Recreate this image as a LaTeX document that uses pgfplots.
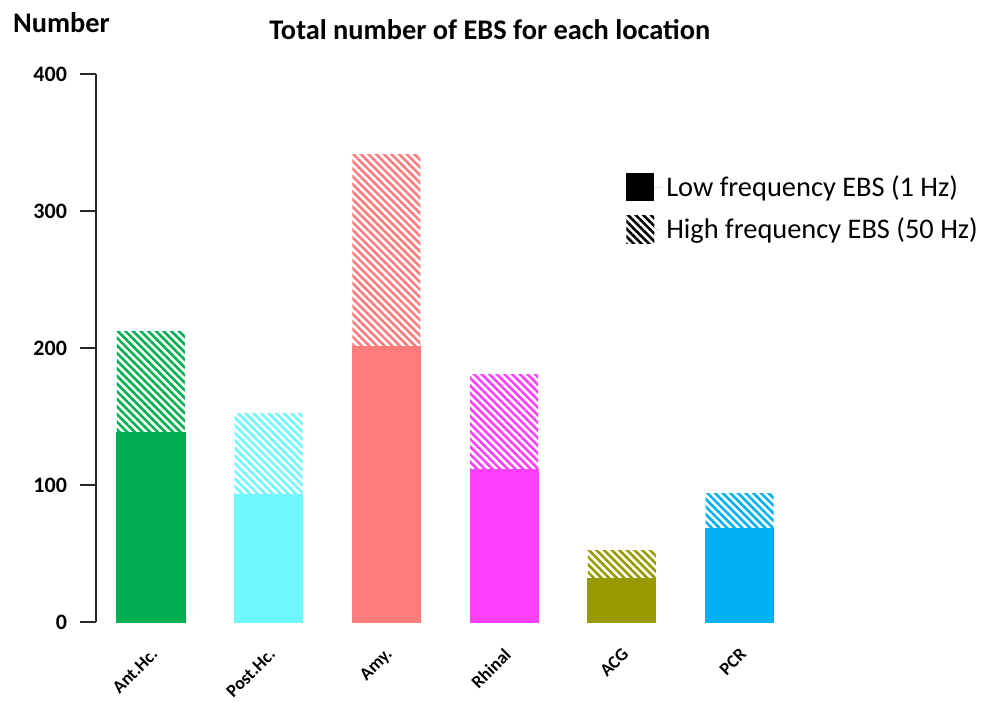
\documentclass[border=0pt]{standalone}
\usepackage{fontspec}
\setmainfont{Carlito}
\usepackage{pgfplots}
\pgfplotsset{compat=1.18}
\usetikzlibrary{patterns.meta}

\definecolor{antc}{RGB}{0,176,80}
\definecolor{postc}{RGB}{110,248,255}
\definecolor{amyc}{RGB}{255,124,124}
\definecolor{rhic}{RGB}{255,64,255}
\definecolor{acgc}{RGB}{153,153,0}
\definecolor{pcrc}{RGB}{0,176,240}

\pgfplotsset{
  lowbar/.style={ybar, bar width=34pt, bar shift=0pt, draw=#1, line width=0.6pt, fill=#1, forget plot},
  highbar/.style={ybar, bar width=34pt, bar shift=0pt, draw=none,
    pattern={Lines[angle=-45, distance=2.7pt, line width=1.3pt]}, pattern color=#1, forget plot},
}

\begin{document}
\begin{tikzpicture}
\begin{axis}[
  name=ax,
  at={(0,0)}, anchor=south west,
  scale only axis,
  width=439.5pt, height=274pt,
  xmin=-0.467, xmax=7.0,
  ymin=0, ymax=400,
  axis lines=left,
  x axis line style={draw=none},
  y axis line style={-, line width=0.8pt, black!85},
  xtick={0,1,2,3,4,5},
  xticklabels={Ant.Hc., Post.Hc., Amy., Rhinal, ACG, PCR},
  xtick style={draw=none},
  ytick={0,100,200,300,400},
  ytick style={line width=0.8pt, black!85},
  tick align=outside,
  major tick length=8pt,
  /pgf/number format/assume math mode=true,
  yticklabel style={font=\bfseries\fontsize{11}{13}\selectfont, xshift=-3pt},
  xticklabel style={font=\bfseries\fontsize{9}{11}\selectfont, rotate=45, anchor=east, yshift=-6pt},
  clip=false,
  legend style={at={(0.596,0.83)}, anchor=north west, draw=none, fill=none,
    font=\fontsize{14.2}{16}\selectfont, row sep=5pt, cells={anchor=west}},
  legend image code/.code={\path[#1] (0pt,-7pt) rectangle (14pt,7pt); \path (0pt,0pt) -- (18pt,0pt);},
]
\addlegendimage{fill=black, draw=none}
\addlegendimage{draw=none, pattern={Lines[angle=-45, distance=2.7pt, line width=1.3pt]}, pattern color=black}

% totals (low + high), hatched
\addplot[highbar=antc]  coordinates {(0,212)};
\addplot[highbar=postc] coordinates {(1,152)};
\addplot[highbar=amyc]  coordinates {(2,341)};
\addplot[highbar=rhic]  coordinates {(3,181)};
\addplot[highbar=acgc]  coordinates {(4,52)};
\addplot[highbar=pcrc]  coordinates {(5,94)};
% low frequency, solid
\addplot[lowbar=antc]  coordinates {(0,138)};
\addplot[lowbar=postc] coordinates {(1,93)};
\addplot[lowbar=amyc]  coordinates {(2,201)};
\addplot[lowbar=rhic]  coordinates {(3,111)};
\addplot[lowbar=acgc]  coordinates {(4,32)};
\addplot[lowbar=pcrc]  coordinates {(5,68)};

\legend{Low frequency EBS (1 Hz), High frequency EBS (50 Hz)}

\node[font=\bfseries\fontsize{14.2}{16}\selectfont, anchor=base]
  at (rel axis cs:0.448,1) [yshift=17pt] {Total number of EBS for each location};
\node[font=\bfseries\fontsize{14.2}{16}\selectfont, anchor=base west]
  at (rel axis cs:0,1) [xshift=-45pt, yshift=20.5pt] {Number};
\end{axis}
\pgfresetboundingbox
\path[use as bounding box] ([shift={(-48pt,-40pt)}]ax.south west) rectangle ([shift={(444.5pt,311pt)}]ax.south west);
\end{tikzpicture}
\end{document}
